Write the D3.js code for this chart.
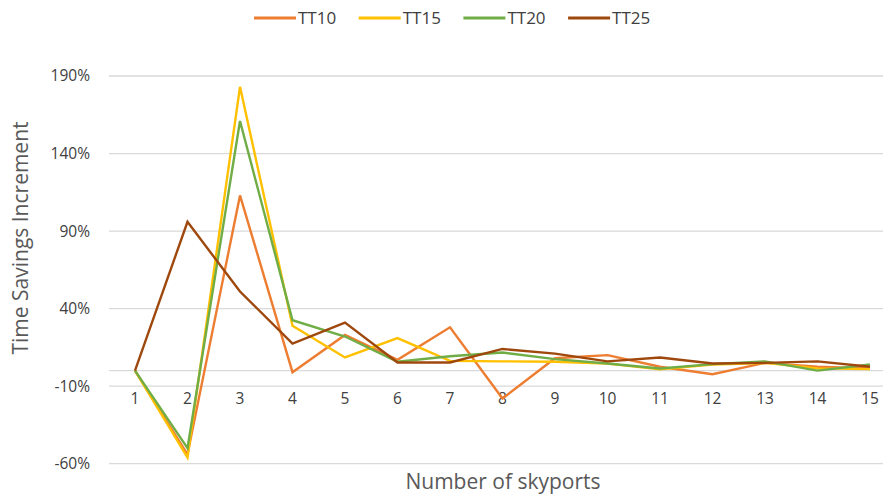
<!DOCTYPE html>
<html>
<head>
<meta charset="utf-8">
<script src="https://cdn.jsdelivr.net/npm/d3@7"></script>
<style>
  body { margin: 0; background: #fff; }
  svg { font-family: "Open Sans", "Noto Sans", sans-serif; }
</style>
</head>
<body>
<svg width="883" height="495"></svg>
<script>
var skyports = [1, 2, 3, 4, 5, 6, 7, 8, 9, 10, 11, 12, 13, 14, 15];
var yTicks = [-60, -10, 40, 90, 140, 190];
var seriesNames = ["TT10", "TT15", "TT20", "TT25"];
var seriesColors = ["#ED7D31", "#FFC000", "#70AD47", "#9E480E"];

var tt10 = [0, -54, 113, -1, 23, 7, 28, -18, 8, 10, 2.5, -2.3, 5, 2.5, 1.5];
var tt15 = [0, -56, 183, 29, 8.5, 21, 6.3, 6, 5.7, 4.5, 0.8, 4, 5, 1.5, 1];
var tt20 = [0, -50, 161, 32.5, 22, 5.7, 9.3, 11.7, 7.4, 4.6, 1.4, 4.2, 6, 0, 4];
var tt25 = [0, 96, 51, 17.5, 31, 5.3, 5.3, 14, 11, 6, 8.5, 4.6, 5, 6, 2.5];

var svg = d3.select("svg"),
    margin = {top: 76, right: 0, bottom: 31, left: 109},
    width = 896 - margin.left,
    height = 463.7 - margin.top;

var x = d3.scalePoint().domain(skyports).range([26, width - 26]),
    y = d3.scaleLinear().domain([-60, 190]).range([height, 0]);

var g = svg.append("g")
    .attr("transform", "translate(" + margin.left + "," + margin.top + ")");

// gridlines
g.selectAll(".grid")
    .data(yTicks)
  .enter().append("line")
    .attr("x1", 0).attr("x2", width)
    .attr("y1", function(d) { return y(d); })
    .attr("y2", function(d) { return y(d); })
    .style("stroke", "#d9d9d9").style("stroke-width", 1.3);

// horizontal axis line at zero
g.append("line")
    .attr("x1", 0).attr("x2", width)
    .attr("y1", y(0)).attr("y2", y(0))
    .style("stroke", "#d9d9d9").style("stroke-width", 1.3);

// y tick labels
g.selectAll(".ylab")
    .data(yTicks)
  .enter().append("text")
    .attr("x", -19)
    .attr("y", function(d) { return y(d); })
    .attr("dy", "0.35em")
    .attr("text-anchor", "end")
    .style("font-size", "15.5px")
    .style("fill", "#404040")
    .text(function(d) { return d + "%"; });

// x tick labels
g.selectAll(".xlab")
    .data(skyports)
  .enter().append("text")
    .attr("x", function(d) { return x(d); })
    .attr("y", y(-10) + 12)
    .attr("dy", "0.35em")
    .attr("text-anchor", "middle")
    .style("font-size", "15.5px")
    .style("fill", "#404040")
    .text(function(d) { return d; });

var line = d3.line()
    .x(function(d, i) { return x(skyports[i]); })
    .y(function(d) { return y(d); });

var allSeries = [tt10, tt15, tt20, tt25];
allSeries.forEach(function(s, i) {
    g.append("path")
        .attr("d", line(s))
        .style("fill", "none")
        .style("stroke", seriesColors[i])
        .style("stroke-width", 2.4)
        .style("stroke-linejoin", "miter");
});

// axis titles
svg.append("text")
    .attr("x", 503)
    .attr("y", 482)
    .attr("dy", "0.35em")
    .attr("text-anchor", "middle")
    .style("font-size", "21px")
    .style("fill", "#595959")
    .text("Number of skyports");

svg.append("text")
    .attr("transform", "translate(21,238) rotate(-90)")
    .attr("dy", "0.35em")
    .attr("text-anchor", "middle")
    .style("font-size", "21px")
    .style("fill", "#595959")
    .text("Time Savings Increment");

// legend
var legend = svg.append("g").attr("transform", "translate(254,18)");
var legItems = legend.selectAll(".leg")
    .data(seriesNames)
  .enter().append("g")
    .attr("transform", function(d, i) { return "translate(" + (i * 104.7) + ",0)"; });
legItems.append("line")
    .attr("x1", 0).attr("x2", 42)
    .style("stroke", function(d, i) { return seriesColors[i]; })
    .style("stroke-width", 3);
legItems.append("text")
    .attr("x", 44)
    .attr("dy", "0.35em")
    .style("font-size", "17px")
    .style("fill", "#404040")
    .text(function(d) { return d; });
</script>
</body>
</html>
